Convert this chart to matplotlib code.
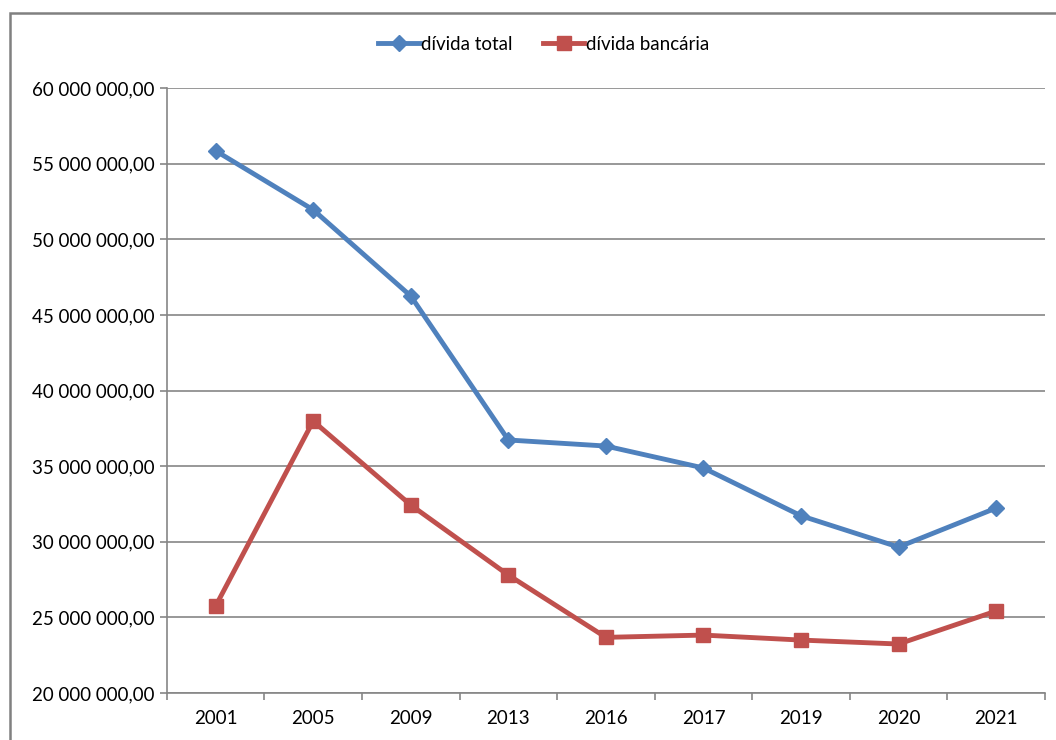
import matplotlib
matplotlib.use("Agg")
import matplotlib.pyplot as plt
from matplotlib.ticker import FuncFormatter, FixedLocator
from matplotlib.patches import Rectangle

plt.rcParams['font.family'] = ['Lato', 'DejaVu Sans']

# Data (values in millions)
years = ['2001', '2005', '2009', '2013', '2016', '2017', '2019', '2020', '2021']
divida_total = [55.85, 51.95, 46.25, 36.73, 36.33, 34.88, 31.72, 29.65, 32.23]
divida_bancaria = [25.75, 37.98, 32.43, 27.80, 23.68, 23.83, 23.50, 23.24, 25.42]

blue = '#4F81BD'
red = '#C0504D'
grey = '#868686'

fig = plt.figure(figsize=(10.56, 7.4), dpi=100)
ax = fig.add_axes([0.158, 0.0635, 0.8315, 0.8175])

x = range(len(years))
ax.plot(x, [v * 1e6 for v in divida_total], color=blue, lw=3.5, marker='D',
        markersize=8, label='dívida total', zorder=3)
ax.plot(x, [v * 1e6 for v in divida_bancaria], color=red, lw=3.5, marker='s',
        markersize=10.5, label='dívida bancária', zorder=3)

ax.set_xlim(-0.5, len(years) - 0.5)
ax.set_ylim(20e6, 60e6)
ax.set_yticks([20e6 + 5e6 * i for i in range(9)])

def fmt(v, pos):
    return '{:,.2f}'.format(v).replace(',', ' ').replace('.', ',')

ax.yaxis.set_major_formatter(FuncFormatter(fmt))
ax.grid(axis='y', color=grey, lw=1.2)
ax.set_axisbelow(True)

ax.set_xticks(list(x))
ax.set_xticklabels(years)
ax.xaxis.set_minor_locator(FixedLocator([i - 0.5 for i in range(len(years) + 1)]))
ax.tick_params(axis='x', which='major', length=0, pad=12, labelsize=13.5)
ax.tick_params(axis='x', which='minor', length=5, color=grey, width=1.2)
ax.tick_params(axis='y', length=5, color=grey, width=1.2, labelsize=13.5, pad=4)

for s in ['top', 'right']:
    ax.spines[s].set_visible(False)
for s in ['left', 'bottom']:
    ax.spines[s].set_color(grey)
    ax.spines[s].set_linewidth(1.2)

fig.legend(loc='center', bbox_to_anchor=(0.515, 0.94), ncol=2, frameon=False,
           fontsize=13.5, handlelength=2.2, handletextpad=0.1, columnspacing=1.6)

# outer chart frame
fig.patches.append(Rectangle((10 / 1056, -0.05), 1.2, (740 - 13) / 740 + 0.05,
                             transform=fig.transFigure, fill=False,
                             edgecolor='#808080', lw=1.8))

fig.savefig('out.png', dpi=100)
